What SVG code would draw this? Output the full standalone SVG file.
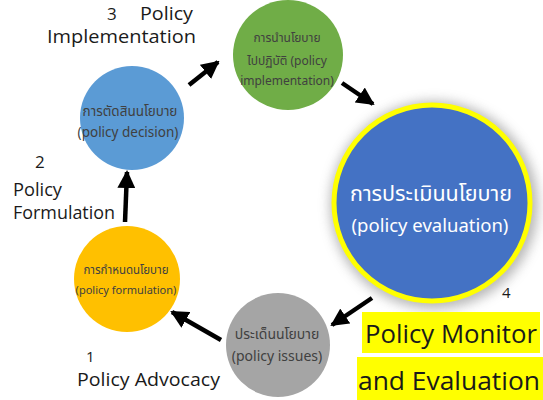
<svg xmlns="http://www.w3.org/2000/svg" width="543" height="400" viewBox="0 0 543 400">
<style>
.lbl{font-family:"Open Sans","Noto Sans",sans-serif;fill:#1a1a1a}
.ct{font-family:"Noto Sans Thai","Open Sans","Noto Sans",sans-serif;fill:#404040;text-anchor:middle}
.wt{font-family:"Noto Sans Thai","Open Sans","Noto Sans",sans-serif;fill:#ffffff;text-anchor:middle}
.arr{stroke:#000;stroke-width:4.5;fill:none;marker-end:url(#ah)}
</style>
<defs>
<marker id="ah" markerUnits="userSpaceOnUse" markerWidth="18" markerHeight="18" viewBox="0 0 18 18" refX="16" refY="9" orient="auto">
<path d="M0,0 L18,9 L0,18 Z" fill="#000"/>
</marker>
<filter id="glow" x="-30%" y="-30%" width="160%" height="160%">
<feGaussianBlur stdDeviation="6"/>
</filter>
</defs>
<rect width="543" height="400" fill="#ffffff"/>

<g id="n-implementation">
<circle cx="288" cy="55" r="55" fill="#70AD47"/>
<text class="ct" x="287" y="42" font-size="12">การนำนโยบาย</text>
<text class="ct" x="287" y="65" font-size="12">ไปปฏิบัติ (policy</text>
<text class="ct" x="287" y="85" font-size="12">implementation)</text>
</g>

<g id="n-decision">
<circle cx="132" cy="118" r="52" fill="#5B9BD5"/>
<text class="ct" x="130" y="116" font-size="13.5">การตัดสินนโยบาย</text>
<text class="ct" x="128" y="137" font-size="13.5">(policy decision)</text>
</g>

<g id="n-formulation">
<circle cx="127" cy="279" r="53" fill="#FFC000"/>
<text class="ct" x="126" y="274" font-size="11.5">การกำหนดนโยบาย</text>
<text class="ct" x="126" y="294" font-size="11">(policy formulation)</text>
</g>

<g id="n-issues">
<circle cx="278" cy="345" r="52" fill="#A5A5A5"/>
<text class="ct" x="277" y="339" font-size="14">ประเด็นนโยบาย</text>
<text class="ct" x="277" y="361" font-size="14">(policy issues)</text>
</g>

<g id="n-evaluation">
<circle cx="434" cy="205" r="104" fill="#9a9a9a" filter="url(#glow)" opacity="0.7"/>
<circle cx="432" cy="203" r="98" fill="#4472C4" stroke="#FFFF00" stroke-width="5"/>
<text class="wt" x="431" y="201" font-size="21.5">การประเมินนโยบาย</text>
<text class="wt" x="430" y="232" font-size="18.5">(policy evaluation)</text>
</g>

<g id="connectors">
<line class="arr" x1="189" y1="85" x2="218" y2="62"/>
<line class="arr" x1="342" y1="83" x2="373" y2="104"/>
<line class="arr" x1="372" y1="298" x2="332" y2="325"/>
<line class="arr" x1="221" y1="340" x2="172" y2="312"/>
<line class="arr" x1="125" y1="222" x2="127" y2="172"/>
</g>

<g id="labels">
<text class="lbl" x="107" y="20" font-size="17">3</text>
<text class="lbl" x="140" y="20" font-size="18.5" textLength="53" lengthAdjust="spacingAndGlyphs">Policy</text>
<text class="lbl" x="47" y="43" font-size="18.5" textLength="149" lengthAdjust="spacingAndGlyphs">Implementation</text>
<text class="lbl" x="35" y="168" font-size="17">2</text>
<text class="lbl" x="13" y="196" font-size="18.5" textLength="49" lengthAdjust="spacingAndGlyphs">Policy</text>
<text class="lbl" x="13" y="219" font-size="18.5" textLength="102" lengthAdjust="spacingAndGlyphs">Formulation</text>
<text class="lbl" x="86" y="362" font-size="15">1</text>
<text class="lbl" x="77" y="386" font-size="18.5" textLength="143" lengthAdjust="spacingAndGlyphs">Policy Advocacy</text>
<text class="lbl" x="502" y="298" font-size="15">4</text>
<rect x="362" y="312" width="178" height="41" fill="#FFFF00"/>
<rect x="357" y="357" width="186" height="43" fill="#FFFF00"/>
<text class="lbl" x="365" y="343" font-size="25" fill="#000" textLength="172" lengthAdjust="spacingAndGlyphs">Policy Monitor</text>
<text class="lbl" x="358" y="390" font-size="25" fill="#000" textLength="182" lengthAdjust="spacingAndGlyphs">and Evaluation</text>
</g>
</svg>
